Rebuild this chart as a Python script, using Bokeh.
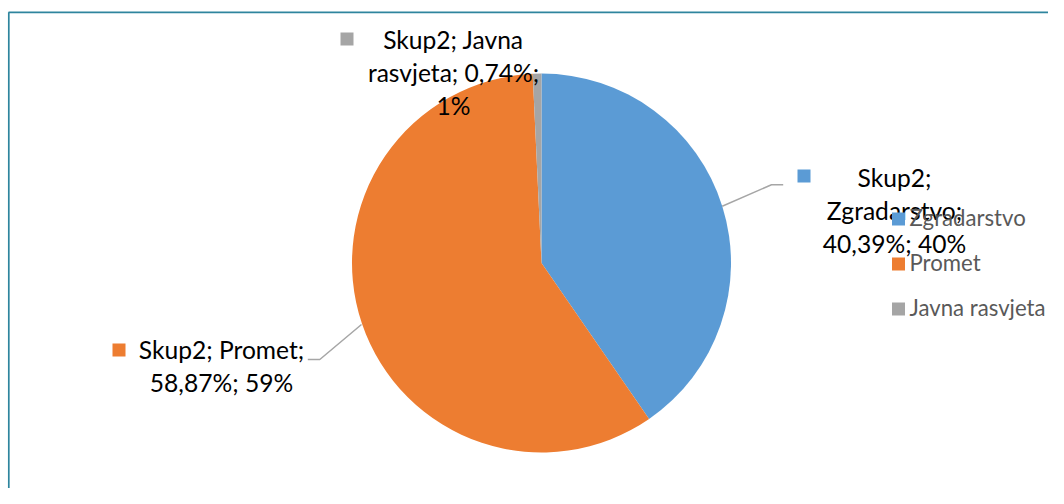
import math
from bokeh.plotting import figure
from bokeh.models import Range1d, ColumnDataSource
from bokeh.core.properties import value
from bokeh.embed import file_html
from bokeh.resources import INLINE

# ---- data ----
series_name = "Skup2"
categories = ["Zgradarstvo", "Promet", "Javna rasvjeta"]
shares = [40.39, 58.87, 0.74]
colors = ["#5B9BD5", "#ED7D31", "#A5A5A5"]

# ---- layout (picture pixels) ----
W, H = 1048, 488
TEXT_SHIFT = 8.5  # compensate baseline placement of svg text


def Y(py):
    """picture y (top-down) -> data y (bottom-up)"""
    return H - py


FONT = "Lato"
LABEL_SIZE = "24.6px"
LEGEND_SIZE = "22.2px"

p = figure(width=W, height=H, x_range=Range1d(0, W), y_range=Range1d(0, H),
           output_backend="svg", toolbar_location=None, min_border=0,
           background_fill_color="white", border_fill_color="white")
p.axis.visible = False
p.grid.visible = False
p.outline_line_color = None

# ---- pie ----
cx, cy, r = 541, Y(262.5), 189.5
total = sum(shares)
starts, ends = [], []
cum = 0.0
for s in shares:
    starts.append(math.pi / 2 - 2 * math.pi * cum / total)
    cum += s
    ends.append(math.pi / 2 - 2 * math.pi * cum / total)

src = ColumnDataSource(dict(cat=categories, share=shares, color=colors,
                            start=starts, end=ends,
                            x=[cx] * len(shares), y=[cy] * len(shares)))
p.wedge(x="x", y="y", radius=r, start_angle="start", end_angle="end",
        direction="clock", fill_color="color", line_color=None, source=src)

# ---- leader lines ----
lead_x = [[721.7, 771, 782.7], [361, 319.3, 307.3]]
lead_y = [[Y(205.7), Y(184.3), Y(184.3)], [Y(324), Y(359), Y(359)]]
p.multi_line(xs=lead_x, ys=lead_y, line_color="#A6A6A6", line_width=1.5)


# ---- data labels ----
def fmt(v):
    return f"{v:.2f}".replace(".", ",") + "%"


def wrap(text, limit):
    lines, cur = [], ""
    for w in text.split(" "):
        cand = w if not cur else cur + " " + w
        if len(cand) > limit and cur:
            lines.append(cur)
            cur = w
        else:
            cur = cand
    lines.append(cur)
    return lines


# per-category label layout: wrap limit, text center x, first baseline, marker center
label_layout = {
    "Zgradarstvo": dict(limit=14, x=894, y0=185.5, mx=803.5, my=175.5),
    "Promet": dict(limit=16, x=221, y0=357.5, mx=118.5, my=349.5),
    "Javna rasvjeta": dict(limit=16, x=453, y0=47, mx=346.5, my=38.5),
}
LINE_H = 33
tx, ty, tt = [], [], []
mx, my, mc = [], [], []
for cat, s, col in zip(categories, shares, colors):
    lay = label_layout[cat]
    label = f"{series_name}; {cat}; {fmt(s)}; {round(s)}%"
    for i, line in enumerate(wrap(label, lay["limit"])):
        tx.append(lay["x"])
        ty.append(Y(lay["y0"] + i * LINE_H - TEXT_SHIFT))
        tt.append(line)
    mx.append(lay["mx"])
    my.append(Y(lay["my"]))
    mc.append(col)

p.rect(x=mx, y=my, width=13, height=13, fill_color=mc, line_color=None)
p.text(x=tx, y=ty, text=tt, text_font=value(FONT), text_font_size=LABEL_SIZE,
       text_color="#000000", text_align="center", text_baseline="alphabetic")

# ---- legend (drawn on top, like the original) ----
leg_x = 898
leg_y0 = 218.5
leg_step = 45
lx = [leg_x] * len(categories)
ly = [Y(leg_y0 + i * leg_step) for i in range(len(categories))]
p.rect(x=lx, y=ly, width=13, height=13, fill_color=colors, line_color=None)
p.text(x=[leg_x + 11] * len(categories), y=[v - 6.5 + TEXT_SHIFT for v in ly], text=categories,
       text_font=value(FONT), text_font_size=LEGEND_SIZE, text_color="#595959",
       text_align="left", text_baseline="alphabetic")

# ---- chart border (top and left edges visible) ----
p.multi_line(xs=[[8, W], [8.3, 8.3]], ys=[[Y(11.8), Y(11.8)], [Y(11.8), 0]],
             line_color="#2E859E", line_width=1.7)

open("out.html", "w").write(file_html(p, INLINE))
